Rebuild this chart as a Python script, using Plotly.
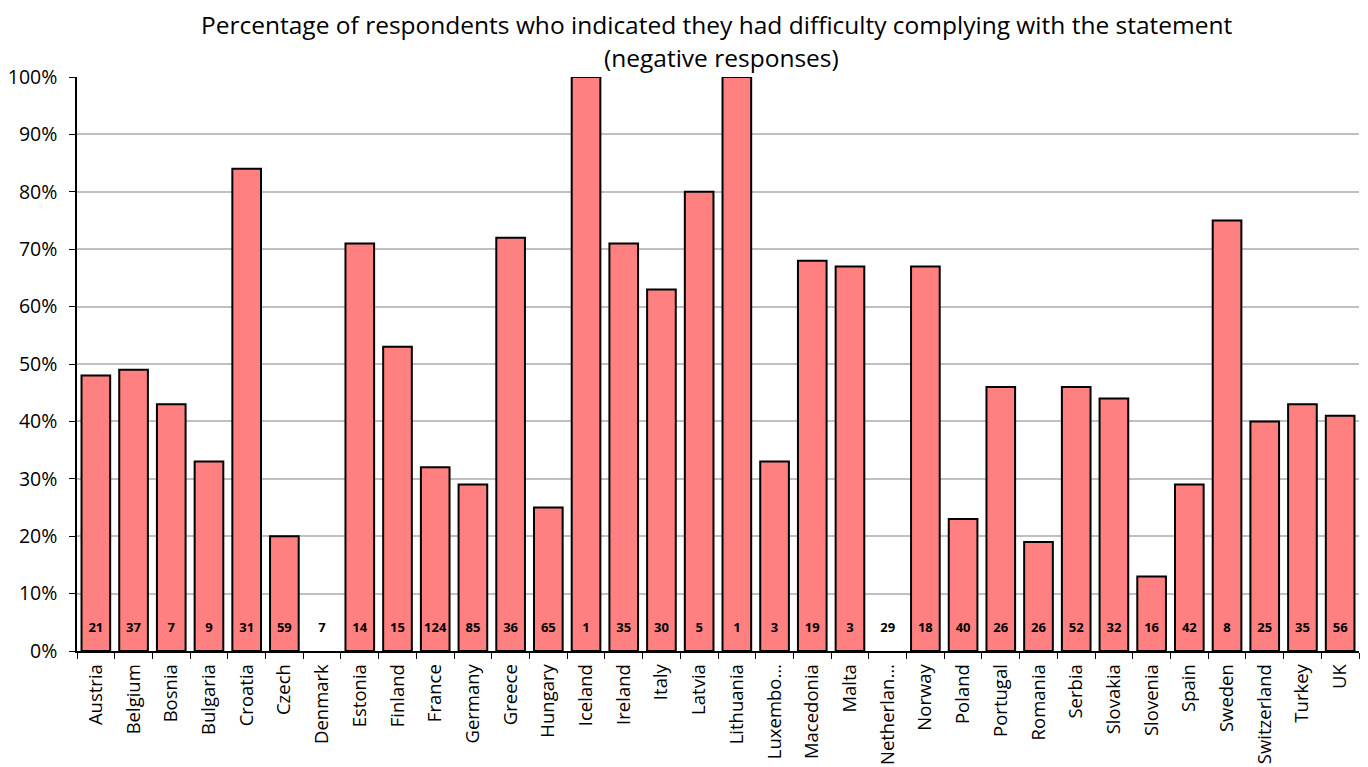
import plotly.graph_objects as go

countries = ["Austria", "Belgium", "Bosnia", "Bulgaria", "Croatia", "Czech", "Denmark", "Estonia",
             "Finland", "France", "Germany", "Greece", "Hungary", "Iceland", "Ireland", "Italy",
             "Latvia", "Lithuania", "Luxembo…", "Macedonia", "Malta", "Netherlan…", "Norway",
             "Poland", "Portugal", "Romania", "Serbia", "Slovakia", "Slovenia", "Spain", "Sweden",
             "Switzerland", "Turkey", "UK"]
pct = [48, 49, 43, 33, 84, 20, 0, 71, 53, 32, 29, 72, 25, 100, 71, 63, 80, 100, 33, 68, 67, 0,
       67, 23, 46, 19, 46, 44, 13, 29, 75, 40, 43, 41]
counts = [21, 37, 7, 9, 31, 59, 7, 14, 15, 124, 85, 36, 65, 1, 35, 30, 5, 1, 3, 19, 3, 29, 18,
          40, 26, 26, 52, 32, 16, 42, 8, 25, 35, 56]
y_ticks = [0, 10, 20, 30, 40, 50, 60, 70, 80, 90, 100]
title_lines = ["Percentage of respondents who indicated they had difficulty complying with the statement",
               "(negative responses)"]
label_level = 3.8

FONT = "Open Sans"

fig = go.Figure()
fig.add_trace(go.Bar(
    x=countries, y=pct,
    marker=dict(color="#FF8080",
                line=dict(color="black", width=[2 if v > 0 else 0 for v in pct])),
    hoverinfo="skip",
))
fig.add_trace(go.Scatter(
    x=countries, y=[label_level] * len(countries), mode="text",
    text=[f"<b>{c}</b>" for c in counts],
    textfont=dict(family=FONT, size=13, color="black"),
    hoverinfo="skip",
))

fig.update_layout(
    width=1360, height=759,
    margin=dict(l=69, r=9, t=69, b=116, autoexpand=False),
    paper_bgcolor="white", plot_bgcolor="white",
    showlegend=False,
    bargap=0.24,
    font=dict(family=FONT, color="black"),
    annotations=[
        dict(text=title_lines[0], xref="paper", yref="paper", x=0.4992, y=1.092,
             xanchor="center", yanchor="middle", showarrow=False, borderpad=0,
             font=dict(family=FONT, size=24.5, color="black")),
        dict(text=title_lines[1], xref="paper", yref="paper", x=0.5025, y=1.0348,
             xanchor="center", yanchor="middle", showarrow=False, borderpad=0,
             font=dict(family=FONT, size=24.5, color="black")),
    ],
)
fig.update_xaxes(
    type="category", automargin=False,
    tickangle=-90,
    tickfont=dict(family=FONT, size=18.5, color="black"),
    showline=True, linecolor="black", linewidth=1.5,
    ticks="outside", ticklen=6, tickcolor="black", tickson="boundaries",
    ticklabelstandoff=4,
    showgrid=False,
    range=[-0.5, len(countries) - 0.5],
)
fig.update_yaxes(
    range=[0, 100], automargin=False,
    tickvals=y_ticks,
    ticktext=[f"{v}%" for v in y_ticks],
    tickfont=dict(family=FONT, size=19.5, color="black"),
    showline=True, linecolor="black", linewidth=1.5,
    ticks="outside", ticklen=6, tickcolor="black",
    ticklabelstandoff=8,
    showgrid=True, gridcolor="#C0C0C0", gridwidth=2,
    zeroline=False,
)

fig.write_html("out.html")
